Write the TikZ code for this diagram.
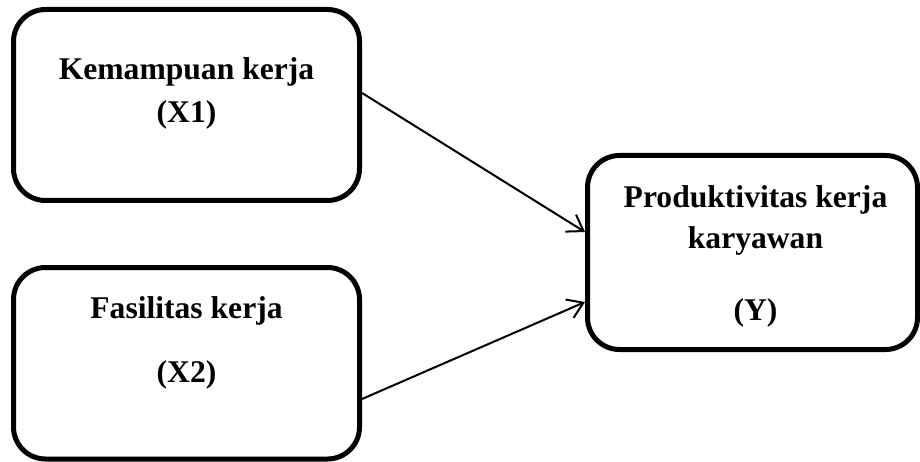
\documentclass[tikz,border=0pt]{standalone}
\usepackage{fontspec}
\setmainfont{Liberation Serif}
\usetikzlibrary{arrows.meta}
\begin{document}
\begin{tikzpicture}[x=1pt,y=-1pt,
  varbox/.style={draw=black, line width=5pt, rounded corners=32pt, inner sep=0pt},
  lbl/.style={anchor=base, inner sep=0pt, font=\fontsize{31.6}{38}\selectfont\bfseries},
  conn/.style={line width=2pt, -{Straight Barb[length=15pt,width=20pt,line width=2pt]}}]
\useasboundingbox (0,0) rectangle (920,462);
\node[varbox, minimum width=346pt, minimum height=191pt] (x1) at (186.5,105) {};
\node[varbox, minimum width=346pt, minimum height=191.5pt] (x2) at (186.5,363.25) {};
\node[varbox, minimum width=330pt, minimum height=194pt] (y) at (752.5,252.5) {};
\node[lbl] (x1a) at (186.5,80) {Kemampuan kerja};
\node[lbl] (x1b) at (186.5,123) {(X1)};
\node[lbl] (x2a) at (186.5,318) {Fasilitas kerja};
\node[lbl] (x2b) at (186.5,382) {(X2)};
\node[lbl] (ya) at (755.5,208) {Produktivitas kerja};
\node[lbl] (yb) at (755.5,248) {karyawan};
\node[lbl] (yc) at (755.5,320) {(Y)};
\draw[conn] ([yshift=12pt]x1.east) -- ([yshift=20.5pt]y.west);
\draw[conn] ([yshift=-35.75pt]x2.east) -- ([yshift=-49.5pt]y.west);
\end{tikzpicture}
\end{document}
